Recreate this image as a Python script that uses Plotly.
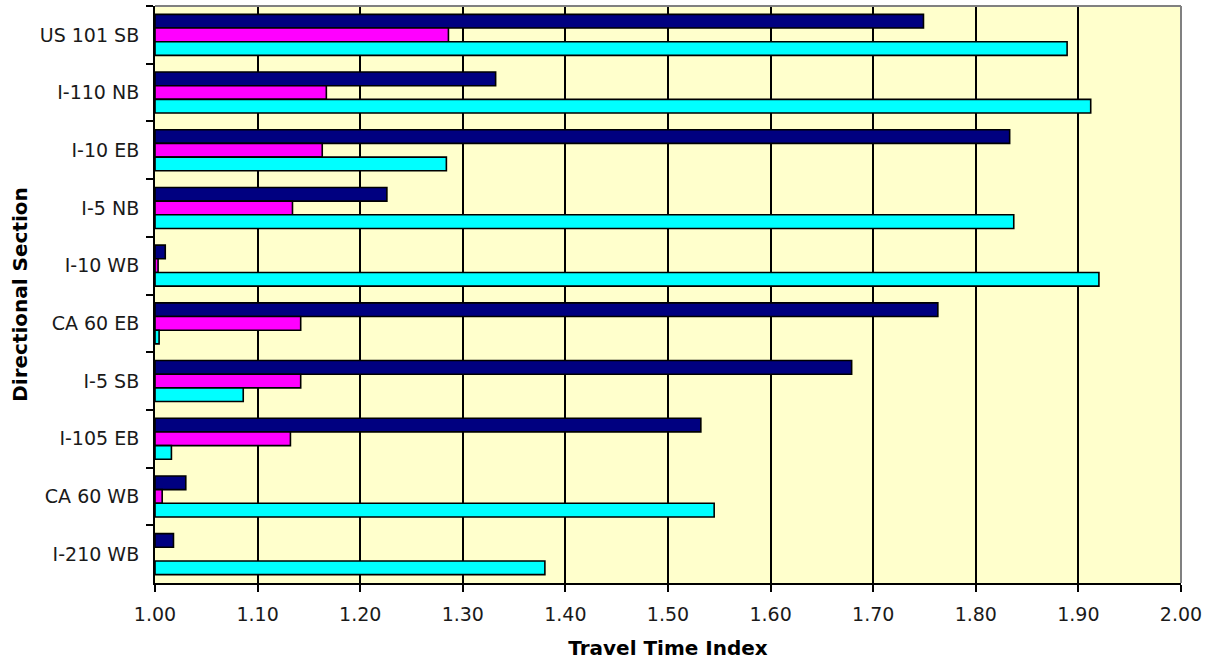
import plotly.graph_objects as go

# Directional sections, listed top to bottom
sections = ["US 101 SB", "I-110 NB", "I-10 EB", "I-5 NB", "I-10 WB",
            "CA 60 EB", "I-5 SB", "I-105 EB", "CA 60 WB", "I-210 WB"]

# Travel time index per section for each of the three series
series_a = [1.749, 1.332, 1.833, 1.226, 1.010, 1.763, 1.679, 1.532, 1.030, 1.018]
series_b = [1.286, 1.167, 1.163, 1.134, 1.003, 1.142, 1.142, 1.132, 1.007, None]
series_c = [1.889, 1.912, 1.284, 1.837, 1.920, 1.004, 1.086, 1.016, 1.545, 1.380]

tick_vals = [1.0, 1.1, 1.2, 1.3, 1.4, 1.5, 1.6, 1.7, 1.8, 1.9, 2.0]
tick_text = ["1.00", "1.10", "1.20", "1.30", "1.40", "1.50",
             "1.60", "1.70", "1.80", "1.90", "2.00"]

BASE = 1.0
FONT = "DejaVu Sans, Verdana, sans-serif"


def lengths(values):
    return [None if v is None else v - BASE for v in values]


fig = go.Figure()
for name, vals, color in [("Series A", series_a, "#000080"),
                          ("Series B", series_b, "#FF00FF"),
                          ("Series C", series_c, "#00FFFF")]:
    fig.add_trace(go.Bar(
        name=name, y=sections, x=lengths(vals), base=BASE, orientation="h",
        marker=dict(color=color, line=dict(color="black", width=1.6)),
        showlegend=False,
    ))

fig.update_layout(
    width=1211, height=663,
    margin=dict(l=155, r=30, t=6, b=80),
    paper_bgcolor="white",
    plot_bgcolor="#FFFFCC",
    barmode="group",
    bargap=0.29,
    bargroupgap=0,
    font=dict(family=FONT, size=19, color="#1a1a1a"),
    xaxis=dict(
        range=[1.0, 2.0],
        tickvals=tick_vals, ticktext=tick_text,
        showgrid=True, gridcolor="black", gridwidth=2,
        showline=True, linecolor="black", linewidth=2,
        ticks="outside", ticklen=7, tickwidth=2, tickcolor="black",
        ticklabelstandoff=6,
        zeroline=False,
        title=dict(text="<b>Travel Time Index</b>",
                   font=dict(family=FONT, size=20, color="black"),
                   standoff=17),
    ),
    yaxis=dict(
        categoryorder="array", categoryarray=sections,
        autorange="reversed",
        showgrid=False,
        showline=True, linecolor="black", linewidth=2,
        ticks="outside", tickson="boundaries", ticklen=7, tickwidth=2,
        tickcolor="black",
        ticklabelstandoff=10,
        title=dict(text="<b>Directional Section</b>",
                   font=dict(family=FONT, size=20, color="black"),
                   standoff=7),
    ),
    shapes=[
        dict(type="line", xref="paper", yref="paper", x0=0, x1=1, y0=1, y1=1,
             line=dict(color="#808080", width=2), layer="above"),
        dict(type="line", xref="paper", yref="paper", x0=1, x1=1, y0=0, y1=1,
             line=dict(color="#808080", width=2), layer="above"),
    ],
)

fig.write_html("out.html")
